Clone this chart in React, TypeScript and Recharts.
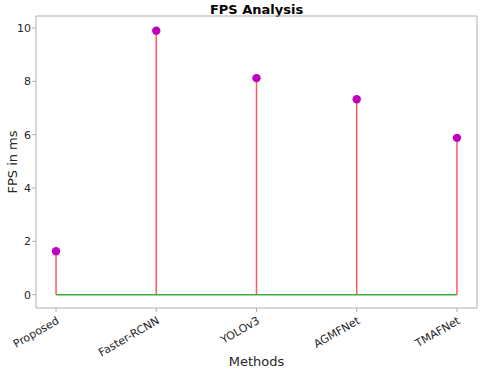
import {
  ComposedChart,
  Scatter,
  XAxis,
  YAxis,
  ReferenceLine,
  ReferenceArea,
} from "recharts";

const methods = ["Proposed", "Faster-RCNN", "YOLOv3", "AGMFNet", "TMAFNet"];
const fpsValues = [1.63, 9.9, 8.12, 7.33, 5.88];
const yTicks = [0, 2, 4, 6, 8, 10];
const xTicks = [0, 1, 2, 3, 4];

const COLORS = {
  stem: "#ff5a5a",
  marker: "#c000c0",
  baseline: "#3cae3c",
  frame: "#b0b0b0",
  text: "#262626",
};

const FONT = "'DejaVu Sans', sans-serif";

const X_DOMAIN: [number, number] = [-0.2, 4.2];
const Y_DOMAIN: [number, number] = [-0.5, 10.45];

const points = methods.map((name, i) => ({ x: i, y: fpsValues[i], name }));

function MethodTick(props: any) {
  const { x, y, payload } = props;
  const ty = y + 2;
  return (
    <text
      x={x}
      y={ty}
      dy="0.71em"
      textAnchor="end"
      transform={`rotate(-30, ${x}, ${ty})`}
      fontSize={11}
      fontFamily={FONT}
      fill={COLORS.text}
    >
      {methods[payload.value]}
    </text>
  );
}

function Marker(props: any) {
  const { cx, cy } = props;
  return <circle cx={cx} cy={cy} r={4.2} fill={COLORS.marker} />;
}

export default function App() {
  return (
    <div style={{ position: "absolute", left: 0, top: 0, width: 480, height: 370, background: "#fff" }}>
      <div
        style={{
          position: "absolute",
          left: 36,
          width: 441,
          top: 2,
          textAlign: "center",
          fontFamily: FONT,
          fontWeight: "bold",
          fontSize: 13,
          color: "#000",
          lineHeight: "16px",
        }}
      >
        FPS Analysis
      </div>
      <ComposedChart
        width={480}
        height={370}
        data={points}
        margin={{ top: 16, right: 3, left: 8, bottom: 0 }}
      >
        <XAxis
          dataKey="x"
          type="number"
          domain={X_DOMAIN}
          ticks={xTicks}
          allowDataOverflow
          height={62}
          axisLine={false}
          tickLine={{ stroke: COLORS.frame }}
          tickSize={4}
          tick={<MethodTick />}
          interval={0}
          label={{
            value: "Methods",
            position: "insideBottom",
            offset: 4,
            fontSize: 13,
            fontFamily: FONT,
            fill: COLORS.text,
          }}
        />
        <YAxis
          dataKey="y"
          type="number"
          domain={Y_DOMAIN}
          ticks={yTicks}
          allowDataOverflow
          width={28}
          axisLine={false}
          tickLine={{ stroke: COLORS.frame }}
          tickSize={4}
          tickMargin={1}
          tick={{ fontSize: 11, fontFamily: FONT, fill: COLORS.text }}
          label={{
            content: ({ viewBox }: any) => {
              const cy = viewBox.y + viewBox.height / 2;
              return (
                <text
                  x={12}
                  y={cy}
                  textAnchor="middle"
                  dominantBaseline="central"
                  transform={`rotate(-90, 12, ${cy})`}
                  fontSize={13}
                  fontFamily={FONT}
                  fill={COLORS.text}
                >
                  FPS in ms
                </text>
              );
            },
          }}
        />
        <ReferenceArea
          x1={X_DOMAIN[0]}
          x2={X_DOMAIN[1]}
          y1={Y_DOMAIN[0]}
          y2={Y_DOMAIN[1]}
          fill="none"
          fillOpacity={0}
          stroke={COLORS.frame}
          strokeWidth={1}
        />
        {points.map((p) => (
          <ReferenceLine
            key={p.name}
            segment={[
              { x: p.x, y: 0 },
              { x: p.x, y: p.y },
            ]}
            stroke={COLORS.stem}
            strokeWidth={1.5}
          />
        ))}
        <ReferenceLine
          segment={[
            { x: xTicks[0], y: 0 },
            { x: xTicks[xTicks.length - 1], y: 0 },
          ]}
          stroke={COLORS.baseline}
          strokeWidth={1.5}
        />
        <Scatter dataKey="y" shape={<Marker />} isAnimationActive={false} />
      </ComposedChart>
    </div>
  );
}
